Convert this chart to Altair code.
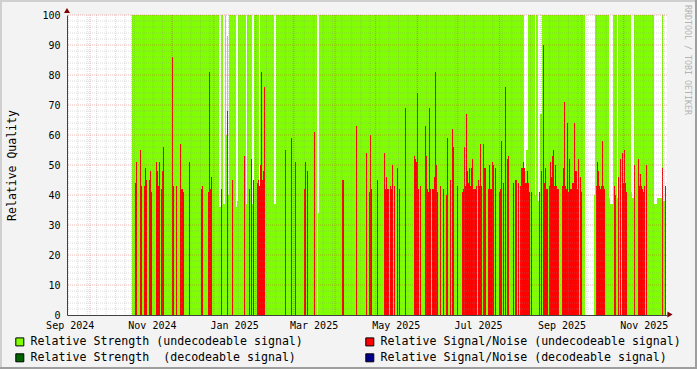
import altair as alt
import pandas as pd

# ---- RRD-style sampling: one consolidated sample per step ----
T0 = pd.Timestamp("2024-09-14 00:00:00")
STEP = pd.Timedelta(seconds=64120)
N_STEPS = 600

# Relative Strength (undecodeable signal): saturated at 100 over the active period,
# with a few lower samples and some missing samples
STRENGTH_FIRST, STRENGTH_LAST = 65, 598
STRENGTH_FULL = 100
STRENGTH_DIP_IDX = [152, 153, 156, 157, 159, 160, 161, 169, 170, 179, 185, 186, 192, 207, 208,
                    251, 457, 458, 459, 460, 468, 471, 472, 473, 474, 527, 542, 543, 544, 545,
                    550, 564, 565, 566, 587, 588, 589, 590, 591, 592, 593, 594, 596, 597, 598]
STRENGTH_DIP_VAL = [36, 36, 37, 37, 60, 93, 40, 36, 38, 37, 37, 37, 40, 37, 37,
                    34, 48, 48, 55, 55, 40, 38, 38, 67, 67, 40, 39, 37, 37, 37,
                    39, 41, 39, 39, 37, 37, 37, 39, 39, 39, 39, 39, 38, 38, 38]
STRENGTH_GAP_IDX = [250, 518, 519, 520, 521, 522, 523, 524, 525, 526]

# Relative Signal/Noise (undecodeable signal)
SNR_IDX = [68, 69, 73, 74, 77, 78, 79, 82, 83, 84, 89, 90, 91, 92, 94, 95, 96, 105, 106, 109,
           113, 114, 115, 116, 122, 134, 135, 141, 142, 143, 144, 154, 160, 165, 177, 182, 184, 186,
           190, 191, 192, 193, 194, 195, 196, 197, 218, 224, 228, 237, 238, 240, 247, 275, 276,
           289, 299, 302, 303, 304, 310, 317, 318, 319, 320, 321, 323, 324, 325, 327, 330, 332,
           338, 347, 348, 349, 350, 351, 353, 358, 359, 360, 361, 362, 363, 365, 366, 367, 368,
           369, 370, 373, 376, 379, 380, 383, 385, 386, 390, 395, 396, 397, 398, 399, 400, 401,
           402, 403, 404, 405, 406, 407, 408, 409, 411, 412, 413, 414, 416, 417, 418, 421, 422,
           423, 424, 425, 426, 428, 432, 433, 434, 436, 438, 440, 441, 446, 448, 449, 451, 453,
           454, 455, 456, 457, 458, 459, 460, 461, 462, 464, 472, 474, 476, 477, 478, 479, 480,
           482, 483, 484, 485, 486, 487, 488, 489, 490, 491, 495, 496, 497, 498, 499, 500, 501,
           502, 503, 504, 505, 506, 507, 508, 509, 510, 511, 513, 514, 529, 530, 531, 532, 533,
           534, 535, 536, 537, 547, 548, 551, 553, 555, 556, 557, 558, 559, 567, 571, 572, 573,
           574, 575, 576, 577, 579, 595, 598]
SNR_VAL = [44, 51, 55, 43, 43, 49, 45, 45, 48, 41, 51, 48, 43, 51, 42, 48, 56, 86, 43, 43,
           57, 42, 42, 41, 51, 42, 43, 41, 81, 42, 46, 42, 68, 45, 53, 42, 52, 45,
           44, 45, 43, 50, 81, 45, 48, 76, 55, 59, 51, 42, 51, 48, 61, 45, 45,
           63, 54, 41, 60, 42, 45, 54, 42, 46, 42, 42, 43, 42, 50, 43, 49, 42,
           69, 53, 52, 51, 74, 42, 43, 63, 53, 42, 41, 69, 42, 42, 42, 46, 81,
           50, 41, 43, 42, 40, 59, 45, 62, 56, 43, 41, 42, 56, 43, 67, 48, 44,
           49, 43, 49, 52, 42, 42, 42, 43, 45, 43, 57, 43, 57, 49, 49, 42, 50,
           42, 42, 51, 50, 49, 41, 42, 58, 44, 76, 52, 53, 44, 45, 45, 44, 43,
           49, 49, 51, 49, 44, 44, 48, 44, 41, 41, 41, 48, 90, 44, 49, 42, 42,
           43, 51, 46, 53, 55, 43, 50, 43, 42, 42, 43, 49, 71, 43, 42, 64, 41,
           52, 42, 42, 44, 44, 64, 48, 48, 42, 52, 46, 41, 43, 51, 48, 43, 42,
           43, 58, 43, 42, 43, 40, 46, 52, 54, 44, 55, 44, 41, 50, 52, 43, 47,
           43, 42, 41, 43, 50, 49, 43]

# legend order (filled column by column): left column strength, right column signal/noise
SERIES = ["Relative Strength (undecodeable signal)",
          "Relative Strength \u00a0(decodeable signal)",
          "Relative Signal/Noise (undecodeable signal)",
          "Relative Signal/Noise (decodeable signal)"]
COLORS = ["#7FFF00", "#006400", "#FF0000", "#00008B"]

# month labels (placed mid-month as RRDtool does) and grid positions
LABEL_MONTHS = [(2024, 9), (2024, 11), (2025, 1), (2025, 3), (2025, 5), (2025, 7), (2025, 9), (2025, 11)]
WEEK_GRID = pd.date_range("2024-09-15", "2025-11-30", freq="7D")
MONTH_GRID = pd.date_range("2024-10-01", "2025-12-01", freq="MS")
Y_MINOR = [v for v in range(2, 100, 2) if v % 10]
Y_MAJOR = list(range(10, 101, 10))

FMT = "%Y-%m-%dT%H:%M:%S"


def t_of(i):
    return (T0 + i * STEP).strftime(FMT)


dips = dict(zip(STRENGTH_DIP_IDX, STRENGTH_DIP_VAL))
rows = []
for i in range(STRENGTH_FIRST, STRENGTH_LAST + 1):
    if i in STRENGTH_GAP_IDX:
        continue
    rows.append({"t": t_of(i), "t2": t_of(i + 1), "v": dips.get(i, STRENGTH_FULL), "series": SERIES[0]})
strength_df = pd.DataFrame(rows)

snr_df = pd.DataFrame({
    "t": [t_of(i) for i in SNR_IDX],
    "t2": [t_of(i + 1) for i in SNR_IDX],
    "v": SNR_VAL,
    "series": SERIES[2],
})

end = T0 + N_STEPS * STEP
xs = alt.Scale(domain=[alt.DateTime(year=T0.year, month=T0.month, date=T0.day),
                       alt.DateTime(year=end.year, month=end.month, date=end.day,
                                    hours=end.hour, minutes=end.minute)])
ys = alt.Scale(domain=[0, 100], nice=False, zero=True)

FONT = "DejaVu Sans Mono"
AXIS_COLOR = "#404040"

x_axis = alt.Axis(values=[alt.DateTime(year=y, month=m, date=16) for y, m in LABEL_MONTHS],
                  labelExpr="timeFormat(datum.value, '%b %Y')", ticks=False, grid=False,
                  domain=True, domainColor=AXIS_COLOR, labelFont=FONT, labelFontSize=10,
                  labelColor="black", labelPadding=5, labelFlush=False, labelOverlap=False,
                  title=None, zindex=1)
y_axis = alt.Axis(values=list(range(0, 101, 10)), ticks=False, grid=False, domain=True,
                  domainColor=AXIS_COLOR, labelFont=FONT, labelFontSize=10, labelColor="black",
                  labelPadding=7, labelFlush=False, title="Relative Quality", titleFont=FONT,
                  titleFontSize=11.5, titleFontWeight="normal", titleColor="black",
                  titleX=-55, titleY=150, titleAngle=270, titleAlign="center",
                  titleBaseline="middle", zindex=1)

color_scale = alt.Scale(domain=SERIES, range=COLORS)
legend = alt.Legend(title=None, orient="none", legendX=-53, legendY=321, columns=2,
                    columnPadding=60, rowPadding=3, symbolType="square", symbolSize=64,
                    symbolStrokeColor="black", symbolStrokeWidth=1, symbolOpacity=1,
                    labelFont=FONT, labelFontSize=11.6, labelColor="black", labelOffset=5,
                    labelLimit=0)

X = alt.X("t:T", scale=xs, axis=x_axis)
Y = alt.Y("v:Q", scale=ys, axis=y_axis)

strength = alt.Chart(strength_df).mark_rect().encode(
    x=X, x2="t2:T", y=Y, y2=alt.datum(0),
    color=alt.Color("series:N", scale=color_scale, legend=legend),
)
snr = alt.Chart(snr_df).mark_rect().encode(
    x=X, x2="t2:T", y=Y, y2=alt.datum(0),
    color=alt.Color("series:N", scale=color_scale, legend=legend),
)

wk = alt.Chart(pd.DataFrame({"t": WEEK_GRID.strftime(FMT)})).mark_rule(
    color="#8C8C8C", opacity=0.3, strokeDash=[1, 1], strokeWidth=1
).encode(x=X)
mo = alt.Chart(pd.DataFrame({"t": MONTH_GRID.strftime(FMT)})).mark_rule(
    color="#C83030", opacity=0.35, strokeDash=[1, 1], strokeWidth=1
).encode(x=X)
ymin = alt.Chart(pd.DataFrame({"v": Y_MINOR})).mark_rule(
    color="#8C8C8C", opacity=0.3, strokeDash=[1, 1], strokeWidth=1
).encode(y=Y)
ymaj = alt.Chart(pd.DataFrame({"v": Y_MAJOR})).mark_rule(
    color="#C83030", opacity=0.35, strokeDash=[1, 1], strokeWidth=1
).encode(y=Y)

one = alt.Data(values=[{"k": 0}])
arrow_y = alt.Chart(one).mark_point(shape="triangle-up", filled=True, color="#7F0000",
                                    size=36, opacity=1).encode(x=alt.value(0), y=alt.value(-4.5))
arrow_x = alt.Chart(one).mark_point(shape="triangle-right", filled=True, color="#7F0000",
                                    size=36, opacity=1).encode(x=alt.value(603), y=alt.value(299.5))
watermark = alt.Chart(one).mark_text(angle=90, font=FONT, fontSize=8.3, color="#b4b4b4",
                                     align="left", baseline="middle").encode(
    x=alt.value(620.3), y=alt.value(-10), text=alt.value("RRDTOOL / TOBI OETIKER"))
frame_top = alt.Chart(one).mark_rule(color="#CFCFCF", strokeWidth=2).encode(
    x=alt.value(-67), x2=alt.value(630), y=alt.value(-14))
frame_left = alt.Chart(one).mark_rule(color="#CFCFCF", strokeWidth=2).encode(
    x=alt.value(-66), y=alt.value(-15), y2=alt.value(354))
frame_right = alt.Chart(one).mark_rule(color="#9E9E9E", strokeWidth=2).encode(
    x=alt.value(629), y=alt.value(-15), y2=alt.value(354))
frame_bottom = alt.Chart(one).mark_rule(color="#9E9E9E", strokeWidth=2).encode(
    x=alt.value(-67), x2=alt.value(630), y=alt.value(353))

chart = alt.layer(
    strength, snr, wk, ymin, mo, ymaj, arrow_y, arrow_x, watermark,
    frame_top, frame_left, frame_right, frame_bottom
).properties(
    width=600, height=300,
    autosize=alt.AutoSizeParams(type="none"),
    padding={"left": 67, "top": 15, "right": 30, "bottom": 54},
    background="#f3f3f3",
).configure_view(fill="white", stroke=None)

chart.save("out.html", embed_options={"renderer": "svg", "actions": False})
